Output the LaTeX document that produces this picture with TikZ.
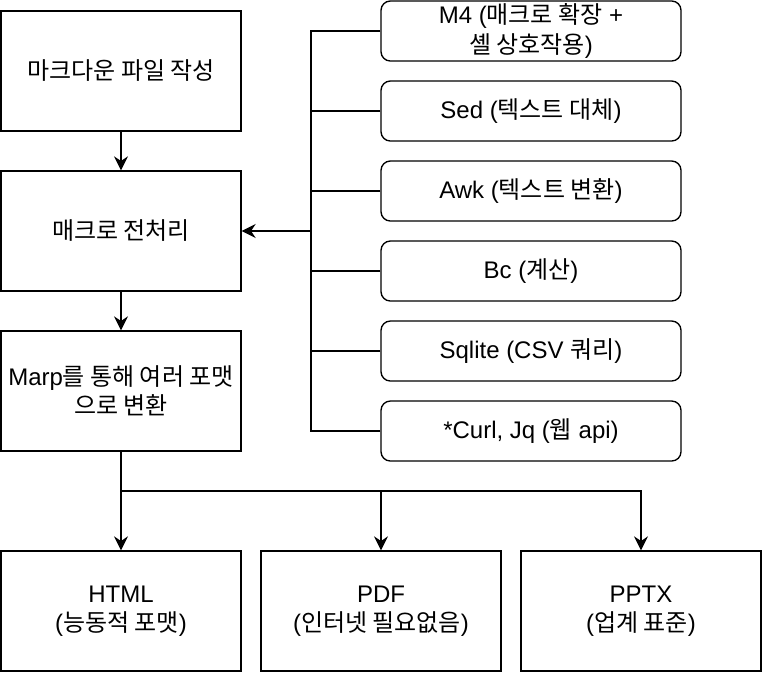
\documentclass[tikz,border=0pt]{standalone}
\usepackage{fontspec}
\setmainfont{Liberation Sans}
\newfontfamily\kr{Noto Sans CJK KR}
\usetikzlibrary{arrows.meta}
\tikzset{
    box/.style={draw, line width=1pt, minimum width=180pt, minimum height=90pt,
        inner sep=0pt, align=center, font=\fontsize{18}{22}\selectfont},
    tool/.style={draw, line width=1pt, rounded corners=7pt, minimum width=225pt,
        minimum height=45pt, inner sep=0pt, align=center, font=\fontsize{18}{22}\selectfont},
    link/.style={line width=1pt},
    arr/.style={link, -{Stealth[length=10.5pt,width=10.5pt,inset=3.5pt]}}
}
\begin{document}
\begin{tikzpicture}[x=0.75pt,y=-0.75pt]
        \useasboundingbox (0,0) rectangle (762,672);
        % main flow
        \node[box] (write) at (121,71) {\kr 마크다운 파일 작성};
        \node[box] (pre) at (121,231) {\kr 매크로 전처리};
        \node[box] (marp) at (121,391) {Marp{\kr 를 통해 여러 포맷}\\{\kr 으로 변환}};
        % tools
        \node[tool] (m4) at (531,31) {M4 ({\kr 매크로 확장} +\\{\kr 셸 상호작용})};
        \node[tool] (sed) at (531,111) {Sed ({\kr 텍스트 대체})};
        \node[tool] (awk) at (531,191) {Awk ({\kr 텍스트 변환})};
        \node[tool] (bc) at (531,271) {Bc ({\kr 계산})};
        \node[tool] (sqlite) at (531,351) {Sqlite (CSV {\kr 쿼리})};
        \node[tool] (curl) at (531,431) {*Curl, Jq ({\kr 웹} api)};
        % outputs
        \node[box] (html) at (121,611) {HTML\\({\kr 능동적 포맷})};
        \node[box] (pdf) at (381,611) {PDF\\({\kr 인터넷 필요없음})};
        \node[box] (pptx) at (641,611) {PPTX\\({\kr 업계 표준})};
        \coordinate (bus) at (311,231);
        \coordinate (split) at (121,491);
        \draw[arr] (write) -- (pre);
        \draw[arr] (pre) -- (marp);
        \foreach \t in {m4,sed,awk,bc,sqlite,curl}
            \draw[link] (\t.west) -| (bus);
        \draw[arr] (bus) -- (pre.east);
        \draw[arr] (marp) -- (html);
        \draw[arr] (split) -| (pdf.north);
        \draw[arr] (split) -| (pptx.north);
    \end{tikzpicture}
\end{document}
